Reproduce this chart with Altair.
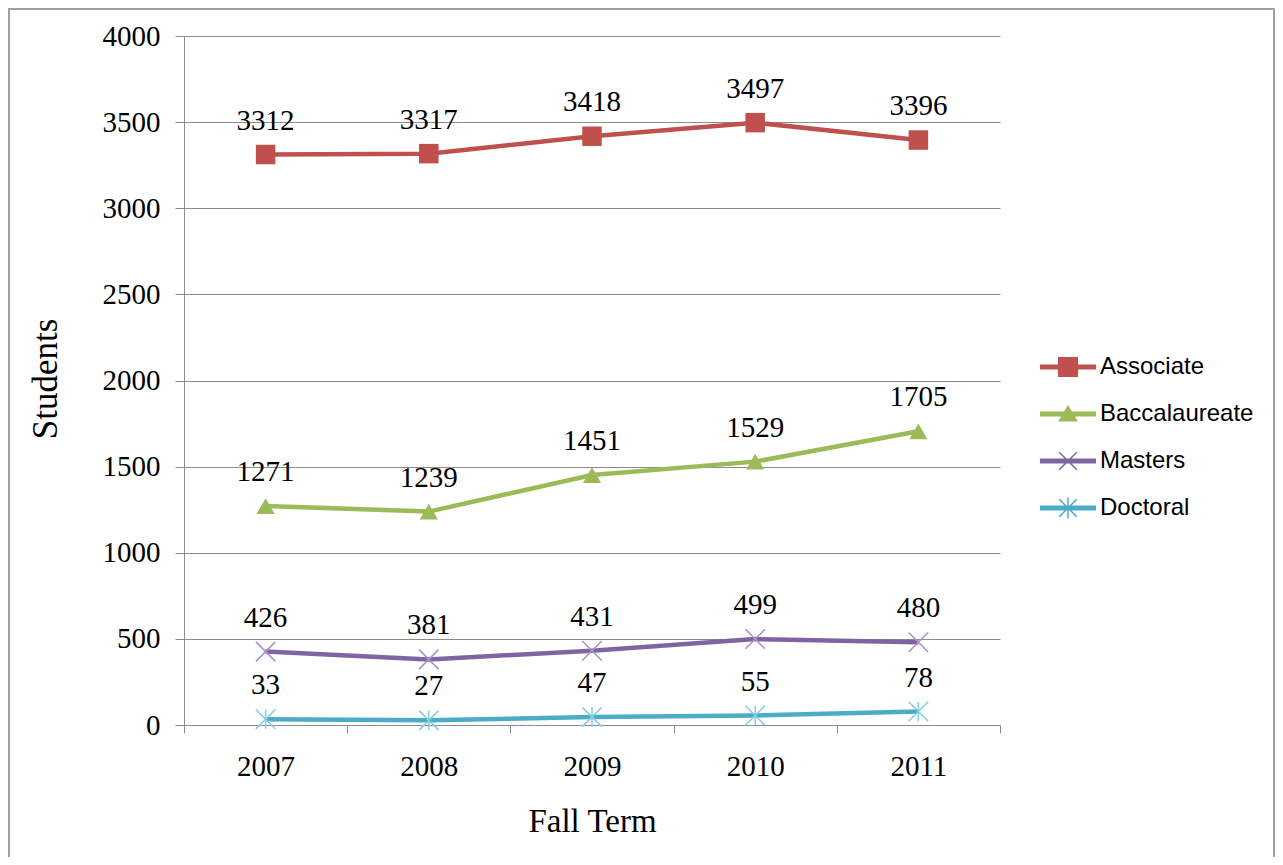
import altair as alt
import pandas as pd

years = ["2007", "2008", "2009", "2010", "2011"]
series = ["Associate", "Baccalaureate", "Masters", "Doctoral"]
associate = [3312, 3317, 3418, 3497, 3396]
baccalaureate = [1271, 1239, 1451, 1529, 1705]
masters = [426, 381, 431, 499, 480]
doctoral = [33, 27, 47, 55, 78]
y_ticks = [0, 500, 1000, 1500, 2000, 2500, 3000, 3500, 4000]

colors = ["#C0504D", "#9BBB59", "#8064A2", "#4BACC6"]
marker_colors = ["#C0504D", "#9BBB59", "#A992C8", "#86CDE0"]

rows = []
for name, vals in zip(series, [associate, baccalaureate, masters, doctoral]):
    for yr, v in zip(years, vals):
        rows.append({"year": yr, "series": name, "students": v})
df = pd.DataFrame(rows)

SERIF = "Liberation Serif"
SANS = "Liberation Sans"
GRAY = "#8C8C8C"

W, H = 816, 689

x_enc = alt.X(
    "year:O",
    scale=alt.Scale(type="band", domain=years, paddingInner=0, paddingOuter=0),
    bandPosition=0.5,
    axis=alt.Axis(
        title="Fall Term", tickBand="extent", labelAngle=0, grid=False,
        labelFont=SERIF, labelFontSize=29, labelColor="black", labelPadding=19,
        tickSize=8, tickColor=GRAY, domainColor=GRAY,
        titleFont=SERIF, titleFontSize=33, titleFontWeight="normal", titleColor="black",
        titleY=96, titleBaseline="middle",
    ),
)
y_enc = alt.Y(
    "students:Q",
    scale=alt.Scale(domain=[0, 4000], nice=False, zero=True),
    axis=alt.Axis(
        title="Students", values=y_ticks, format="d", grid=True, gridColor=GRAY, gridWidth=1,
        labelFont=SERIF, labelFontSize=29, labelColor="black", labelPadding=15,
        tickSize=9, tickColor=GRAY, domainColor=GRAY,
        titleFont=SERIF, titleFontSize=35, titleFontWeight="normal", titleColor="black",
        titleX=-139, titleY=H / 2 - 2, titleAngle=-90, titleBaseline="middle", titleAlign="center",
    ),
)

base = alt.Chart(df).encode(x=x_enc, y=y_enc)

# legend symbols: line + marker (custom paths, unit = 15 px)
LINE = "M-1.87,-0.17L1.87,-0.17L1.87,0.17L-1.87,0.17Z"
legend_paths = [
    LINE + "M-0.67,-0.67L0.67,-0.67L0.67,0.67L-0.67,0.67Z",
    LINE + "M0,-0.62L0.66,0.5L-0.66,0.5Z",
    LINE + "M-0.55,-0.62L0.62,0.55L0.55,0.62L-0.62,-0.55Z"
           "M-0.62,0.55L0.55,-0.62L0.62,-0.55L-0.55,0.62Z",
    LINE + "M-0.55,-0.62L0.62,0.55L0.55,0.62L-0.62,-0.55Z"
           "M-0.62,0.55L0.55,-0.62L0.62,-0.55L-0.55,0.62Z"
           "M-0.05,-0.7L0.05,-0.7L0.05,0.7L-0.05,0.7Z",
]
legend_props = dict(
    title=None, orient="none", legendX=869, legendY=316, padding=0,
    symbolSize=900, symbolStrokeWidth=0, symbolOpacity=1,
    labelFont=SANS, labelFontSize=24, labelColor="black", labelOffset=17,
    rowPadding=20, labelLimit=300,
)

lines = base.mark_line(strokeWidth=4.5).encode(
    color=alt.Color("series:N", scale=alt.Scale(domain=series, range=colors),
                    legend=alt.Legend(**legend_props)),
)

sq = base.transform_filter(alt.datum.series == series[0]).mark_point(
    shape="square", filled=True, size=380, opacity=1, color=marker_colors[0])
tri = base.transform_filter(alt.datum.series == series[1]).mark_point(
    shape="triangle-up", filled=True, size=330, opacity=1, color=marker_colors[1])
xs = base.transform_filter(alt.datum.series == series[2]).mark_point(
    shape="M-1,-1L1,1M-1,1L1,-1", filled=False, size=380, opacity=1, strokeWidth=1.5,
    color=marker_colors[2])
ast = base.transform_filter(alt.datum.series == series[3]).mark_point(
    shape="M-1,-1L1,1M-1,1L1,-1M0,-1L0,1", filled=False, size=380, opacity=1, strokeWidth=1.5,
    color=marker_colors[3])

labels = base.mark_text(dy=-34, font=SERIF, fontSize=29, color="black").encode(
    text=alt.Text("students:Q", format="d")
)

legend_layer = base.mark_point(filled=True, opacity=0, size=900).encode(
    color=alt.Color("series:N", scale=alt.Scale(domain=series, range=colors),
                    legend=alt.Legend(**legend_props)),
    shape=alt.Shape("series:N", scale=alt.Scale(domain=series, range=legend_paths),
                    legend=alt.Legend(**legend_props)),
)

# outer picture frame
frame = alt.Chart(df).mark_rect(fill="transparent", stroke="#A0A0A0", strokeWidth=1.5).encode(
    x=alt.value(-175), x2=alt.value(1090), y=alt.value(-27), y2=alt.value(900)
)

chart = alt.layer(
    frame, lines, sq, tri, xs, ast, labels, legend_layer
).properties(
    width=W, height=H,
    background="white",
    autosize=alt.AutoSizeParams(type="none"),
    padding={"left": 176, "top": 28, "right": 275, "bottom": 132},
).configure_view(stroke=None)

chart.save("out.html", embed_options={"renderer": "svg", "actions": False})
